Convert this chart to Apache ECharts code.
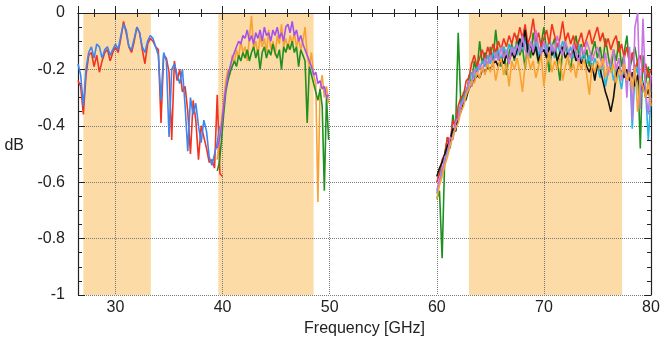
<!DOCTYPE html>
<html>
<head>
<meta charset="utf-8">
<script src="https://cdn.jsdelivr.net/npm/echarts@6/dist/echarts.min.js"></script>
<style>
  html, body { margin: 0; padding: 0; background: #fff; }
  #chart { width: 664px; height: 348px; }
</style>
</head>
<body>
<div id="chart"></div>
<script>
// 频段 (GHz)
const bands = [[27, 33.3], [39.6, 48.5], [63, 77.3]];

// 26.5 - 40 GHz
const freqA = [26.5, 26.75, 27, 27.25, 27.5, 27.75, 28, 28.25, 28.5, 28.75, 29, 29.25, 29.5, 29.75,
  30, 30.25, 30.5, 30.75, 31, 31.25, 31.5, 31.75, 32, 32.25, 32.5, 32.75, 33, 33.25, 33.5, 33.75,
  34, 34.25, 34.5, 34.75, 35, 35.25, 35.5, 35.75, 36, 36.25, 36.5, 36.75, 37, 37.25, 37.5, 37.75,
  38, 38.25, 38.5, 38.75, 39, 39.25, 39.5, 39.75, 40];
const redA = [-0.24, -0.26, -0.36, -0.22, -0.15, -0.14, -0.19, -0.15, -0.21, -0.17, -0.14, -0.13, -0.17, -0.14,
  -0.12, -0.14, -0.09, -0.03, -0.07, -0.12, -0.14, -0.10, -0.05, -0.07, -0.13, -0.18, -0.11, -0.09, -0.10, -0.12,
  -0.13, -0.39, -0.15, -0.16, -0.21, -0.45, -0.17, -0.24, -0.20, -0.28, -0.26, -0.35, -0.50, -0.31, -0.38, -0.52,
  -0.40, -0.44, -0.48, -0.53, -0.52, -0.55, -0.29, -0.57, -0.58];
const blueA = [-0.18, -0.22, -0.33, -0.20, -0.14, -0.12, -0.16, -0.11, -0.12, -0.16, -0.13, -0.12, -0.15, -0.13,
  -0.11, -0.13, -0.08, -0.04, -0.06, -0.12, -0.13, -0.09, -0.05, -0.07, -0.12, -0.14, -0.10, -0.08, -0.09, -0.12,
  -0.15, -0.31, -0.14, -0.17, -0.44, -0.20, -0.18, -0.22, -0.25, -0.20, -0.33, -0.49, -0.30, -0.36, -0.32, -0.40,
  -0.46, -0.38, -0.42, -0.51, -0.54, -0.50, -0.46, -0.40, null];

// 39.5 - 50 GHz
const freqB = [39.5, 39.7, 39.9, 40.1, 40.3, 40.5, 40.7, 40.9, 41.1, 41.3, 41.5, 41.7, 41.9, 42.1, 42.3, 42.5,
  42.7, 42.9, 43.1, 43.3, 43.5, 43.7, 43.9, 44.1, 44.3, 44.5, 44.7, 44.9, 45.1, 45.3, 45.5, 45.7, 45.9, 46.1,
  46.3, 46.5, 46.7, 46.9, 47.1, 47.3, 47.5, 47.7, 47.9, 48.1, 48.3, 48.5, 48.7, 48.9, 49.1, 49.3, 49.5, 49.7, 49.9];
const purpleB = [-0.48, -0.45, -0.40, -0.33, -0.27, -0.22, -0.19, -0.16, -0.14, -0.12, -0.10, -0.11, -0.08, -0.09,
  -0.06, -0.10, -0.08, -0.11, -0.07, -0.09, -0.06, -0.10, -0.05, -0.08, -0.07, -0.10, -0.06, -0.08, -0.05, -0.09,
  -0.07, -0.10, -0.05, -0.04, -0.07, -0.03, -0.08, -0.06, -0.10, -0.08, -0.11, -0.13, -0.15, -0.17, -0.19, -0.22,
  -0.21, -0.25, -0.24, -0.27, -0.26, -0.30, -0.29];
const orangeB = [-0.52, -0.44, -0.38, -0.31, -0.24, -0.20, -0.22, -0.15, -0.18, -0.13, -0.16, -0.10, -0.14, -0.12,
  -0.17, -0.09, -0.01, -0.13, -0.10, -0.15, -0.08, -0.12, -0.09, -0.14, -0.06, -0.13, -0.10, -0.15, -0.08, -0.11,
  -0.04, -0.12, -0.09, -0.13, -0.08, -0.11, -0.07, -0.12, -0.09, -0.13, -0.10, -0.05, -0.15, -0.19, -0.14, -0.22,
  -0.25, -0.67, -0.27, -0.22, -0.30, -0.26, -0.32];
const greenB = [-0.56, -0.53, -0.45, -0.36, -0.28, -0.24, -0.21, -0.19, -0.17, -0.19, -0.15, -0.17, -0.14, -0.16,
  -0.13, -0.17, -0.14, -0.12, -0.16, -0.13, -0.20, -0.14, -0.12, -0.16, -0.13, -0.15, -0.11, -0.14, -0.16, -0.13,
  -0.20, -0.12, -0.14, -0.11, -0.13, -0.10, -0.14, -0.12, -0.19, -0.13, -0.15, -0.17, -0.39, -0.19, -0.22, -0.25,
  -0.28, -0.31, -0.27, -0.33, -0.63, -0.30, -0.45];

// 60 - 80 GHz
const freqC = [60, 60.25, 60.5, 60.75, 61, 61.25, 61.5, 61.75, 62, 62.25, 62.5, 62.75, 63, 63.25, 63.5, 63.75,
  64, 64.25, 64.5, 64.75, 65, 65.25, 65.5, 65.75, 66, 66.25, 66.5, 66.75, 67, 67.25, 67.5, 67.75,
  68, 68.25, 68.5, 68.75, 69, 69.25, 69.5, 69.75, 70, 70.25, 70.5, 70.75, 71, 71.25, 71.5, 71.75,
  72, 72.25, 72.5, 72.75, 73, 73.25, 73.5, 73.75, 74, 74.25, 74.5, 74.75, 75, 75.25, 75.5, 75.75,
  76, 76.25, 76.5, 76.75, 77, 77.25, 77.5, 77.75, 78, 78.25, 78.5, 78.75, 79, 79.25, 79.5, 79.75, 80];
const blackC = [-0.58, -0.55, -0.53, -0.50, -0.47, -0.45, -0.41, -0.42, -0.37, -0.35,
  -0.32, -0.30, -0.27, -0.25, -0.24, -0.22, -0.23, -0.20, -0.21, -0.19,
  -0.20, -0.18, -0.17, -0.19, -0.16, -0.18, -0.15, -0.17, -0.14, -0.16,
  -0.13, -0.09, -0.12, -0.06, -0.14, -0.11, -0.15, -0.12, -0.17, -0.14,
  -0.13, -0.16, -0.12, -0.15, -0.13, -0.17, -0.14, -0.12, -0.16, -0.14,
  -0.15, -0.13, -0.17, -0.15, -0.18, -0.16, -0.19, -0.21, -0.18, -0.24,
  -0.18, -0.20, -0.24, -0.28, -0.31, -0.35, -0.30, -0.22, -0.19, -0.21,
  -0.23, -0.20, -0.24, -0.21, -0.26, -0.22, -0.28, -0.25, -0.30, -0.27, -0.32];
const redC = [-0.60, -0.57, -0.52, -0.50, -0.44, -0.47, -0.38, -0.40, -0.33, -0.30,
  -0.29, -0.24, -0.23, -0.18, -0.15, -0.19, -0.16, -0.13, -0.17, -0.12,
  -0.15, -0.11, -0.14, -0.10, -0.13, -0.09, -0.12, -0.08, -0.11, -0.07,
  -0.10, -0.05, -0.09, -0.04, -0.11, -0.08, -0.02, -0.10, -0.07, -0.12,
  -0.09, -0.06, -0.11, -0.04, -0.08, -0.12, -0.09, -0.03, -0.10, -0.07,
  -0.11, -0.08, -0.13, -0.10, -0.07, -0.12, -0.09, -0.06, -0.11, -0.08,
  -0.05, -0.10, -0.07, -0.12, -0.09, -0.13, -0.10, -0.08, -0.14, -0.11,
  -0.16, -0.12, -0.18, -0.14, -0.20, -0.17, -0.15, -0.21, -0.18, -0.23, -0.20];
const greenC = [-0.66, -0.63, -0.87, -0.50, -0.44, -0.48, -0.36, -0.42, -0.07, -0.33,
  -0.28, -0.31, -0.22, -0.26, -0.17, -0.21, -0.10, -0.18, -0.14, -0.20,
  -0.12, -0.17, -0.06, -0.15, -0.19, -0.12, -0.22, -0.14, -0.11, -0.17,
  -0.08, -0.15, -0.12, -0.20, -0.10, -0.16, -0.07, -0.13, -0.18, -0.11,
  -0.05, -0.14, -0.21, -0.12, -0.09, -0.17, -0.24, -0.13, -0.10, -0.16,
  -0.20, -0.12, -0.08, -0.15, -0.11, -0.17, -0.13, -0.19, -0.14, -0.10,
  -0.16, -0.12, -0.18, -0.09, -0.15, -0.21, -0.13, -0.17, -0.10, -0.19,
  -0.14, -0.08, -0.20, -0.16, -0.12, -0.18, -0.48, -0.15, -0.25, -0.19, -0.28];
const cyanC = [-0.64, -0.60, -0.55, -0.53, -0.48, -0.45, -0.43, -0.38, -0.36, -0.32,
  -0.30, -0.27, -0.25, -0.21, -0.23, -0.19, -0.20, -0.17, -0.19, -0.15,
  -0.18, -0.14, -0.16, -0.13, -0.17, -0.12, -0.15, -0.11, -0.14, -0.12,
  -0.15, -0.10, -0.13, -0.09, -0.14, -0.11, -0.13, -0.10, -0.15, -0.12,
  -0.11, -0.14, -0.09, -0.13, -0.16, -0.11, -0.14, -0.10, -0.13, -0.15,
  -0.12, -0.16, -0.13, -0.11, -0.17, -0.14, -0.18, -0.15, -0.20, -0.16,
  -0.19, -0.23, -0.17, -0.26, -0.21, -0.18, -0.24, -0.20, -0.22, -0.27,
  -0.20, -0.25, -0.18, -0.41, -0.22, -0.19, -0.30, -0.24, -0.28, -0.45, -0.30];
const violetC = [-0.63, -0.59, -0.57, -0.51, -0.50, -0.44, -0.45, -0.39, -0.37, -0.33,
  -0.31, -0.29, -0.24, -0.26, -0.20, -0.22, -0.18, -0.21, -0.16, -0.19,
  -0.15, -0.18, -0.14, -0.17, -0.12, -0.16, -0.13, -0.18, -0.12, -0.15,
  -0.11, -0.14, -0.08, -0.13, -0.16, -0.10, -0.14, -0.06, -0.12, -0.15,
  -0.10, -0.13, -0.16, -0.11, -0.14, -0.08, -0.12, -0.15, -0.10, -0.13,
  -0.16, -0.11, -0.14, -0.18, -0.12, -0.15, -0.10, -0.13, -0.17, -0.14,
  -0.12, -0.16, -0.19, -0.14, -0.22, -0.17, -0.13, -0.20, -0.16, -0.24,
  -0.15, -0.30, -0.12, -0.38, -0.05, 0.00, -0.34, -0.02, -0.28, -0.36, -0.22];
const orangeC = [-0.66, -0.61, -0.58, -0.54, -0.51, -0.47, -0.44, -0.41, -0.39, -0.35,
  -0.33, -0.29, -0.27, -0.24, -0.25, -0.21, -0.23, -0.19, -0.22, -0.18,
  -0.21, -0.17, -0.24, -0.19, -0.16, -0.22, -0.18, -0.26, -0.17, -0.20,
  -0.16, -0.21, -0.28, -0.18, -0.15, -0.20, -0.17, -0.23, -0.19, -0.15,
  -0.26, -0.18, -0.14, -0.21, -0.17, -0.20, -0.16, -0.24, -0.19, -0.15,
  -0.21, -0.18, -0.23, -0.17, -0.20, -0.16, -0.22, -0.29, -0.18, -0.21,
  -0.17, -0.20, -0.16, -0.23, -0.19, -0.21, -0.18, -0.25, -0.20, -0.22,
  -0.18, -0.24, -0.21, -0.27, -0.19, -0.35, -0.23, -0.26, -0.30, -0.24, -0.33];

const chart = echarts.init(document.getElementById('chart'));

function pairs(xs, ys) {
  return xs.map((x, i) => [x, ys[i] === undefined ? null : ys[i]]);
}

function line(xs, ys, color) {
  return {
    type: 'line',
    data: pairs(xs, ys),
    showSymbol: false,
    symbol: 'none',
    connectNulls: false,
    z: 2,
    lineStyle: { color: color, width: 1.6 },
    animation: false
  };
}

const font = 'Liberation Sans, Arial, sans-serif';
const axisLineStyle = { show: true, lineStyle: { color: '#222', width: 1.2 } };
const gridLine = { show: true, lineStyle: { color: '#7a7a7a', type: [1, 1], width: 1 } };

const xBase = {
  type: 'value', min: 26.5, max: 80,
  axisLine: axisLineStyle,
  axisTick: { show: true, inside: true, length: 7, lineStyle: { color: '#222' } },
  minorTick: { show: true, splitNumber: 5, length: 4, lineStyle: { color: '#222' } },
  z: 1.5
};
const yBase = {
  type: 'value', min: -1, max: 0, interval: 0.2,
  axisLine: axisLineStyle,
  axisTick: { show: true, inside: true, length: 7, lineStyle: { color: '#222' } },
  minorTick: { show: true, splitNumber: 4, length: 4, lineStyle: { color: '#222' } },
  z: 1.5
};

const option = {
  animation: false,
  grid: { left: 78, right: 13, top: 13, bottom: 53 },
  xAxis: [
    Object.assign({}, xBase, {
      position: 'bottom',
      name: 'Frequency [GHz]', nameLocation: 'middle', nameGap: 25,
      nameTextStyle: { fontFamily: font, fontSize: 16, color: '#222' },
      axisLabel: {
        fontFamily: font, fontSize: 16, color: '#222', margin: 5,
        formatter: v => (v % 10 === 0 ? String(v) : '')
      },
      splitLine: gridLine
    }),
    Object.assign({}, xBase, { position: 'top', axisLabel: { show: false }, splitLine: { show: false } })
  ],
  yAxis: [
    Object.assign({}, yBase, {
      position: 'left',
      name: 'dB', nameLocation: 'middle', nameGap: 54, nameRotate: 0,
      nameTextStyle: { fontFamily: font, fontSize: 16, color: '#222', verticalAlign: 'bottom' },
      axisLabel: {
        fontFamily: font, fontSize: 16, color: '#222', margin: 13,
        formatter: v => (v === 0 ? '0' : (v === -1 ? '-1' : v.toFixed(1)))
      },
      splitLine: gridLine
    }),
    Object.assign({}, yBase, { position: 'right', axisLabel: { show: false }, splitLine: { show: false } })
  ],
  series: [
    {
      type: 'line', data: [], z: 1, silent: true,
      markArea: {
        silent: true,
        itemStyle: { color: '#fddba7' },
        data: bands.map(b => [{ xAxis: b[0] }, { xAxis: b[1] }])
      }
    },
    line(freqA, redA, '#f2331f'),
    line(freqA, blueA, '#3d85ef'),
    line(freqB, orangeB, '#f9a232'),
    line(freqB, greenB, '#1f8f1f'),
    line(freqB, purpleB, '#a452ee'),
    line(freqC, greenC, '#1f8f1f'),
    line(freqC, cyanC, '#22b6e6'),
    line(freqC, redC, '#f2331f'),
    line(freqC, blackC, '#111111'),
    line(freqC, violetC, '#c874e2'),
    line(freqC, orangeC, '#f9a232')
  ]
};

chart.setOption(option);
window.addEventListener('resize', () => chart.resize());
</script>
</body>
</html>
